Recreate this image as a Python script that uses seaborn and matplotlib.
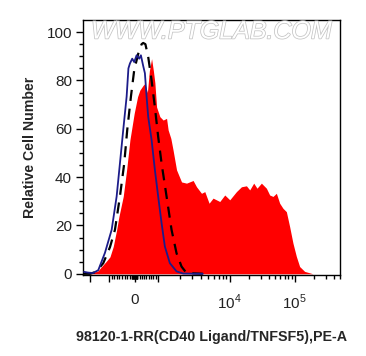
import numpy as np
import matplotlib
matplotlib.use("Agg")
import matplotlib.pyplot as plt
import matplotlib.patheffects as pe
import seaborn as sns

# ---- data (x = display channel position, y = relative cell number) ----
red_x = [5, 10, 15, 18.7, 23, 27, 30.3, 33.7, 36, 40.3, 43.7, 47, 51.3, 54.7, 57,
         60.3, 62, 64.5, 66.5, 68.7, 70.5, 72, 73.7, 77, 80.3, 83.7, 85.3, 88, 90.3, 93.7,
         98.7, 103.7, 110.3, 113.7, 118.7, 122, 126.3, 130.3, 137, 142, 147, 153.7, 158.7,
         163.7, 167, 171, 174.3, 178.7, 183.7, 187, 190.3, 193.7, 197, 200.3, 203.7, 207,
         210.3, 213.7, 217, 222, 230.3]
red_y = [0, 0.5, 1.2, 3, 5, 7, 11.3, 18.2, 23.7, 32, 43, 55.4, 66.4, 73.3, 76,
         78, 78.7, 75, 84, 89, 84, 79, 69, 65, 63.6, 64.3, 59.5, 56, 51, 43,
         38, 37.5, 38.6, 36, 33.3, 34, 29.2, 31.3, 29.9, 32.6, 30.6, 34, 36,
         36.4, 34.7, 37.5, 35.4, 37.5, 35.4, 32.6, 32, 33.3, 29.2, 27.1, 25.7, 19.5,
         12.7, 7.2, 3, 1, 0]

blue_x = [1, 5, 10, 15.3, 22, 28.7, 33.7, 37, 40.3, 43.7, 45.5, 47, 49.3, 51.3, 53.7,
          56.3, 58, 60.3, 62, 63.7, 65.3, 68.7, 72, 75.3, 78.7, 82, 87, 93.7, 100.3, 120]
blue_y = [0.8, 0.5, 0.3, 1.5, 8.7, 18.2, 32, 45.7, 59.5, 73.3, 85, 87, 89, 87.6, 90.4,
          89, 90.4, 86, 83, 73.3, 65, 55.4, 43, 32, 21, 11.3, 4.4, 1, 0.1, 0]

dash_x = [1, 7, 13, 20.3, 27, 32, 37, 41.3, 44.3, 48, 51.3, 55.3, 58.7, 60.3, 62.5,
          65.3, 68.7, 72, 75.3, 78.7, 83.7, 88.7, 93.7, 98.7, 103.7, 120]
dash_y = [0, 0, 0.8, 4.4, 11, 18.2, 32, 45.7, 59.5, 73.3, 84.3, 91, 95, 95.5, 95,
          89.8, 80, 69, 56.7, 45.7, 32, 18.2, 8.5, 3, 0.3, 0]

y_ticks = [0, 20, 40, 60, 80, 100]
x_tick_labels = ["0", "$10^4$", "$10^5$"]
x_label = "98120-1-RR(CD40 Ligand/TNFSF5),PE-A"
y_label = "Relative Cell Number"
watermark = "WWW.PTGLAB.COM"

# ---- display transform for tick placement (value -> channel position) ----
def pos(v):
    v = float(v)
    if v == 0:
        return 52.0
    if 0 < v <= 1e3:
        return 52.0 + v * 0.023
    if -1e3 <= v < 0:
        return 52.0 + v * 0.026
    if v < -1e3:
        return 26.0 - 19.0 * np.log10(-v / 1e3)
    if v <= 1e4:
        return 75.0 + 72.0 * np.log10(v / 1e3)
    return 147.0 + 65.0 * np.log10(v / 1e4)

major_vals = [-1e4, -1e3, 0, 1e3, 1e4, 1e5]
minor_vals = ([k * 100 for k in range(-9, 10) if k != 0]
              + [k * 20 for k in range(-5, 6) if k != 0]
              + [k * 1e3 for k in range(2, 10)]
              + [k * 1e4 for k in range(2, 10)]
              + [k * 1e5 for k in range(2, 6)])

# ---- figure ----
sns.set_theme(style="ticks")
plt.rcParams["font.family"] = ["Liberation Sans", "DejaVu Sans"]
plt.rcParams["mathtext.fontset"] = "custom"
plt.rcParams["mathtext.rm"] = "Liberation Sans"

fig = plt.figure(figsize=(3.66, 3.56), dpi=100)
ax = fig.add_axes([83 / 366, 81 / 356, 257 / 366, 255 / 356])

ax.fill_between(red_x, red_y, 0, color="#ff0000", linewidth=0, zorder=1)
sns.lineplot(x=blue_x, y=blue_y, ax=ax, color="#1c1c8a", linewidth=1.3, sort=False, zorder=3)
sns.lineplot(x=dash_x, y=dash_y, ax=ax, color="black", linewidth=1.6, sort=False,
             zorder=2, dashes=False)
ax.lines[-1].set_dashes([5, 3.5])

ax.set_xlim(0, 257)
ax.set_ylim(-0.5, 105)

ax.set_yticks(y_ticks)
ax.set_yticks(np.arange(0, 105, 5), minor=True)
ax.set_yticklabels([str(t) for t in y_ticks], fontsize=11, color="#222222")

major_pos = [pos(v) for v in major_vals]
ax.set_xticks(major_pos)
lbls = ["" for _ in major_vals]
lbls[2], lbls[4], lbls[5] = x_tick_labels
ax.set_xticklabels(lbls, fontsize=11, color="#222222")
ax.set_xticks([pos(v) for v in minor_vals], minor=True)

ax.tick_params(axis="both", which="major", length=5, width=1, color="black", pad=3)
ax.tick_params(axis="both", which="minor", length=3, width=1, color="black")
ax.tick_params(axis="x", which="major", pad=8)

for s in ax.spines.values():
    s.set_color("black")
    s.set_linewidth(1)

ax.set_xlabel(x_label, fontsize=10.3, fontweight="bold", labelpad=13)
ax.set_ylabel(y_label, fontsize=10.2, fontweight="bold", labelpad=7)

ax.text(0.5, 0.955, watermark, transform=ax.transAxes, ha="center", va="center",
        fontsize=18, fontstyle="italic", color="white", zorder=5,
        path_effects=[pe.withStroke(linewidth=1.1, foreground="#c4c4c4")])

fig.savefig("out.png", dpi=100)
